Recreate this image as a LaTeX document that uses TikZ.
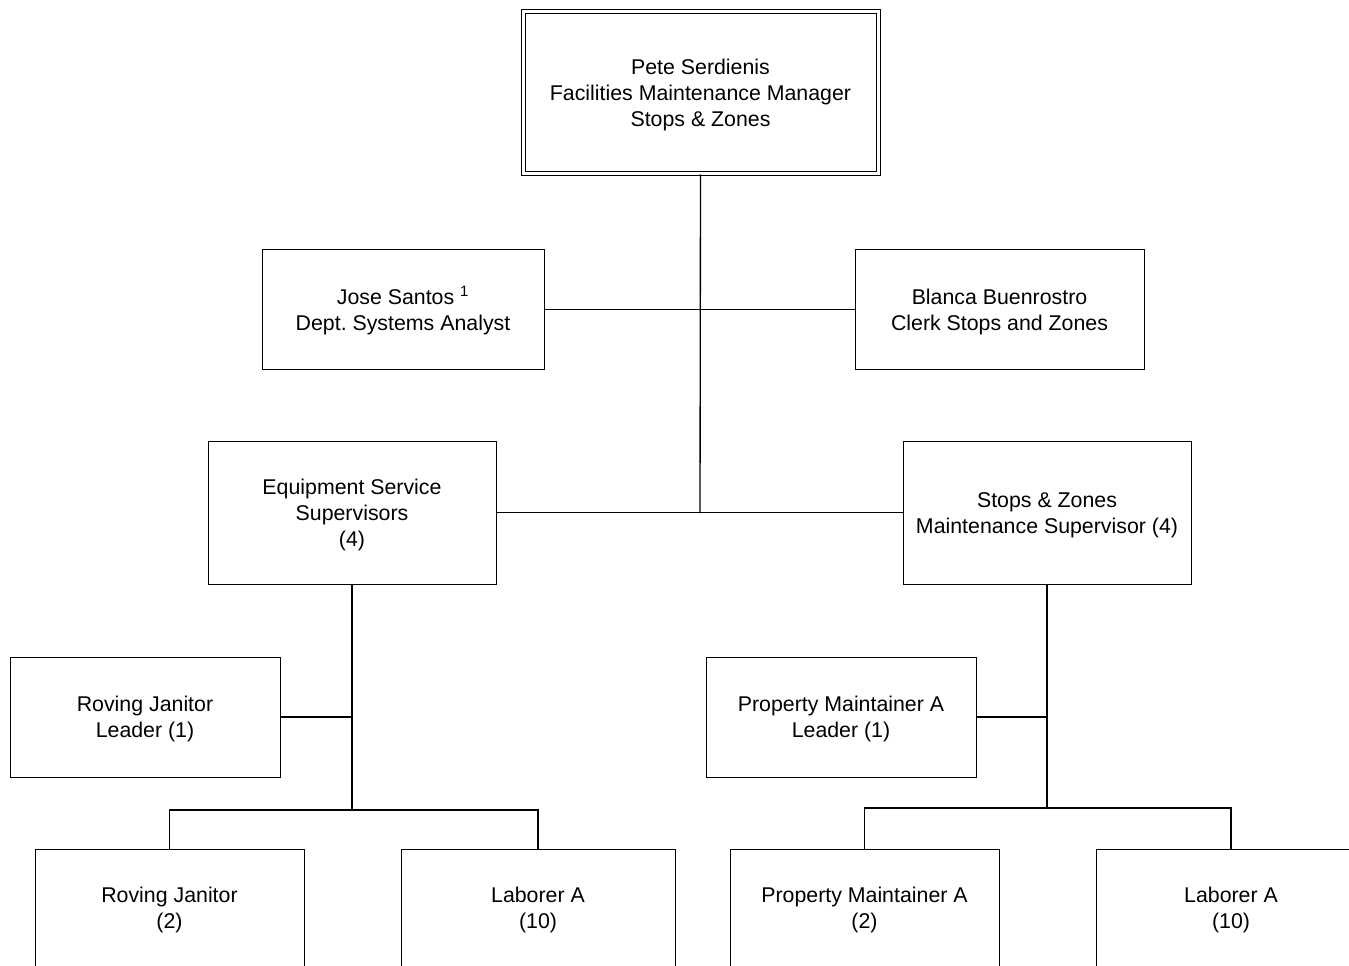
\documentclass[tikz,border=0pt]{standalone}
\usepackage{fontspec}
\setmainfont{Liberation Sans}
\frenchspacing
\newcommand{\boxtext}[1]{\raisebox{-1.9pt}[\height][\depth]{\begin{tabular}{@{}c@{}}#1\end{tabular}}}
\begin{document}
\begin{tikzpicture}[x=0.75pt,y=-0.75pt,
  box/.style={draw, line width=0.75pt, inner sep=0pt,
    font=\fontsize{16}{19.5}\selectfont},
  conn/.style={line width=1pt}]
\useasboundingbox (0,0) rectangle (1349,966);
\clip (0,0) rectangle (1349,966);
% top
\node[box, double, double distance=2.25pt, minimum width=355*0.75pt, minimum height=162*0.75pt] (top) at (700.5,93)
  {\boxtext{Pete Serdienis\\Facilities Maintenance Manager\\Stops \& Zones}};
\node[box, minimum width=282*0.75pt, minimum height=119*0.75pt] (jose) at (403,309.5)
  {\boxtext{Jose Santos \textsuperscript{1}\\Dept.\ Systems Analyst}};
\node[box, minimum width=289*0.75pt, minimum height=119*0.75pt] (blanca) at (999.5,309.5)
  {\boxtext{Blanca Buenrostro\\Clerk Stops and Zones}};
\node[box, minimum width=288*0.75pt, minimum height=143*0.75pt] (equip) at (352,512.5)
  {\boxtext{Equipment Service\\Supervisors\\(4)}};
\node[box, minimum width=288*0.75pt, minimum height=143*0.75pt] (stops) at (1047,512.5)
  {\boxtext{Stops \& Zones\\Maintenance Supervisor (4)}};
\node[box, minimum width=270*0.75pt, minimum height=120*0.75pt] (rjl) at (145,717)
  {\boxtext{Roving Janitor\\Leader (1)}};
\node[box, minimum width=270*0.75pt, minimum height=120*0.75pt] (pml) at (841,717)
  {\boxtext{Property Maintainer A\\Leader (1)}};
\node[box, minimum width=269*0.75pt, minimum height=118*0.75pt] (rj) at (169.5,908)
  {\boxtext{Roving Janitor\\(2)}};
\node[box, minimum width=274*0.75pt, minimum height=118*0.75pt] (la1) at (538,908)
  {\boxtext{Laborer A\\(10)}};
\node[box, minimum width=269*0.75pt, minimum height=118*0.75pt] (pm) at (864.5,908)
  {\boxtext{Property Maintainer A\\(2)}};
\node[box, minimum width=270*0.75pt, minimum height=118*0.75pt] (la2) at (1231,908)
  {\boxtext{Laborer A\\(10)}};
% connectors
\coordinate (j2) at (700,513);
\coordinate (l1) at (352,717);
\coordinate (l2) at (352,810);
\coordinate (r1) at (1047,717);
\coordinate (r2) at (1047,808);
\draw[conn] (top.south) -- (j2);
\draw[conn] (jose.east) -- (blanca.west);
\draw[conn] (equip.east) -- (stops.west);
\draw[conn] (equip.south) -- (l2);
\draw[conn] (rjl.east) -- (l1);
\draw[conn] (rj.north) |- (l2) -| (la1.north);
\draw[conn] (stops.south) -- (r2);
\draw[conn] (pml.east) -- (r1);
\draw[conn] (pm.north) |- (r2) -| (la2.north);
\end{tikzpicture}
\end{document}
